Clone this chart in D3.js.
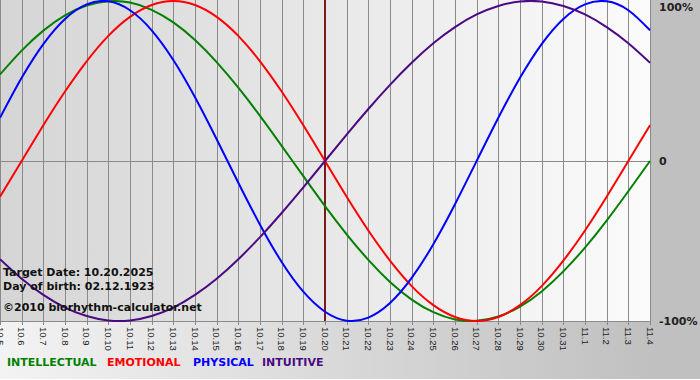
<!DOCTYPE html>
<html><head><meta charset="utf-8">
<script src="https://cdn.jsdelivr.net/npm/d3@7"></script>
<style>html,body{margin:0;padding:0;background:#fff;overflow:hidden}</style>
</head><body>
<svg id="c" width="700" height="380"></svg>
<script>
const days = ["10.5","10.6","10.7","10.8","10.9","10.10","10.11","10.12","10.13","10.14","10.15","10.16","10.17","10.18","10.19","10.20","10.21","10.22","10.23","10.24","10.25","10.26","10.27","10.28","10.29","10.30","10.31","11.1","11.2","11.3","11.4"];
const intellectual = [54.1,69.0,81.5,91.0,97.2,99.9,99.0,94.5,86.6,75.6,61.8,45.8,28.2,9.5,-9.5,-28.2,-45.8,-61.8,-75.6,-86.6,-94.5,-99.0,-99.9,-97.2,-91.0,-81.5,-69.0,-54.1,-37.2,-18.9,0];
const emotional = [-22.3,0,22.3,43.4,62.3,78.2,90.1,97.5,100,97.5,90.1,78.2,62.3,43.4,22.3,0,-22.3,-43.4,-62.3,-78.2,-90.1,-97.5,-100,-97.5,-90.1,-78.2,-62.3,-43.4,-22.3,0,22.3];
const physical = [27.0,52.0,73.1,88.8,97.9,99.8,94.2,81.7,63.1,39.8,13.6,-13.6,-39.8,-63.1,-81.7,-94.2,-99.8,-97.9,-88.8,-73.1,-52.0,-27.0,0,27.0,52.0,73.1,88.8,97.9,99.8,94.2,81.7];
const intuitive = [-61.4,-73.6,-83.7,-91.6,-96.9,-99.7,-99.7,-96.9,-91.6,-83.7,-73.6,-61.4,-47.6,-32.5,-16.5,0,16.5,32.5,47.6,61.4,73.6,83.7,91.6,96.9,99.7,99.7,96.9,91.6,83.7,73.6,61.4];
const seriesNames = ["INTELLECTUAL","EMOTIONAL","PHYSICAL","INTUITIVE"];
const yTickValues = [100,0,-100];
const yTickLabels = ["100%","0","-100%"];
const targetDay = "10.20";
const infoLines = ["Target Date: 10.20.2025","Day of birth: 02.12.1923","©2010 biorhythm-calculator.net"];

const colors = {INTELLECTUAL:"#008000",EMOTIONAL:"#ff0000",PHYSICAL:"#0000ff",INTUITIVE:"#4b0a82"};
const data = {INTELLECTUAL:intellectual,EMOTIONAL:emotional,PHYSICAL:physical,INTUITIVE:intuitive};

const svg = d3.select("#c");
const W = 700, H = 380;
const plot = {left:0, right:650, top:0, bottom:321};
const x = d3.scalePoint().domain(days).range([plot.left, plot.right]);
const y = d3.scaleLinear().domain([-100,100]).range([321,1]);

const defs = svg.append("defs");
const g1 = defs.append("linearGradient").attr("id","bg").attr("x1","0").attr("x2","1").attr("y1","0").attr("y2","0");
g1.append("stop").attr("offset","0").attr("stop-color","#f3f3f3");
g1.append("stop").attr("offset","0.93").attr("stop-color","#c0c0c0");
g1.append("stop").attr("offset","1").attr("stop-color","#c0c0c0");
const g2 = defs.append("linearGradient").attr("id","pbg").attr("x1","0").attr("x2","1").attr("y1","0").attr("y2","0");
g2.append("stop").attr("offset","0").attr("stop-color","#d5d5d5");
g2.append("stop").attr("offset","1").attr("stop-color","#fbfbfb");

svg.append("rect").attr("width",W).attr("height",H-1).attr("fill","url(#bg)");
svg.append("rect").attr("x",plot.left).attr("y",plot.top).attr("width",plot.right-plot.left+1).attr("height",plot.bottom-plot.top).attr("fill","url(#pbg)");

// vertical grid lines + ticks
const gridColor = "#8a8a8a";
svg.append("g").selectAll("line").data(days).join("line")
  .attr("x1",d=>Math.round(x(d))+0.5).attr("x2",d=>Math.round(x(d))+0.5)
  .attr("y1",plot.top).attr("y2",plot.bottom+4)
  .attr("stroke",gridColor).attr("stroke-width",1);
// horizontal lines at 0 and bottom
svg.append("g").selectAll("line").data([0,-100]).join("line")
  .attr("x1",plot.left).attr("x2",plot.right+1)
  .attr("y1",d=>Math.round(y(d))+0.5).attr("y2",d=>Math.round(y(d))+0.5)
  .attr("stroke",gridColor).attr("stroke-width",1);

// target day marker
svg.append("line").attr("x1",x(targetDay)).attr("x2",x(targetDay))
  .attr("y1",plot.top).attr("y2",plot.bottom)
  .attr("stroke","#7a1a1a").attr("stroke-width",2);

// curves
const line = d3.line().x((v,i)=>x(days[i])).y(v=>y(v)).curve(d3.curveNatural);
svg.append("g").selectAll("path").data(seriesNames).join("path")
  .attr("d",n=>line(data[n])).attr("fill","none")
  .attr("stroke",n=>colors[n]).attr("stroke-width",2);

// x tick labels
svg.append("g").selectAll("text").data(days).join("text")
  .attr("transform",d=>`translate(${x(d)},327) rotate(90)`)
  .attr("dy","0.35em")
  .attr("font-family","'Liberation Sans', Arial, sans-serif").attr("font-size","9.5px")
  .attr("fill","#222").text(d=>d);

// right labels
svg.append("g").selectAll("text").data(yTickValues).join("text")
  .attr("x",659).attr("y",d=>Math.max(y(d)+4,11))
  .attr("font-family","'DejaVu Sans', Verdana, sans-serif").attr("font-weight","bold").attr("font-size","11px")
  .attr("fill","#222").text((d,i)=>yTickLabels[i]);

// info text
const infoY = [276,290,311];
svg.append("g").selectAll("text").data(infoLines).join("text")
  .attr("x",3).attr("y",(d,i)=>infoY[i])
  .attr("font-family","'DejaVu Sans', Verdana, sans-serif").attr("font-weight","bold").attr("font-size","11px")
  .attr("fill","#111").text(d=>d);

// legend
const legX = [7,107,193,262];
svg.append("g").selectAll("text").data(seriesNames).join("text")
  .attr("x",(d,i)=>legX[i]).attr("y",366)
  .attr("font-family","'DejaVu Sans', Verdana, sans-serif").attr("font-weight","bold").attr("font-size","11px")
  .attr("fill",d=>colors[d]).text(d=>d);
</script>
</body></html>
